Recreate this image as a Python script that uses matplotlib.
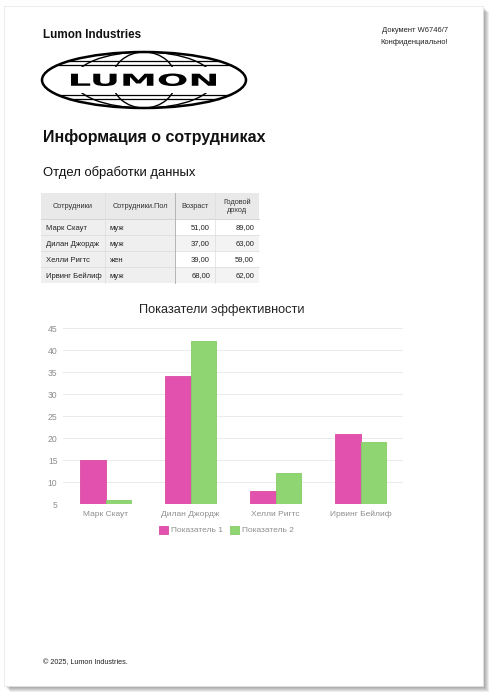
import numpy as np
import matplotlib
matplotlib.use("Agg")
import matplotlib.pyplot as plt
from matplotlib.patches import Ellipse, Rectangle, PathPatch
from matplotlib.textpath import TextPath
from matplotlib.font_manager import FontProperties
from matplotlib.transforms import Affine2D

plt.rcParams["font.family"] = ["Liberation Sans", "DejaVu Sans"]

# table data
employees = ["Марк Скаут", "Дилан Джордж", "Хелли Ригтс", "Ирвинг Бейлиф"]
genders = ["муж", "муж", "жен", "муж"]
ages = [51, 37, 39, 68]
incomes = [89, 63, 59, 62]
table_headers = ["Сотрудники", "Сотрудники.Пол", "Возраст", "Годовой\nдоход"]

# chart data
series_names = ["Показатель 1", "Показатель 2"]
metric_1 = [15, 34, 8, 21]
metric_2 = [6, 42, 12, 19]
y_ticks = [5, 10, 15, 20, 25, 30, 35, 40, 45]

PINK = "#e151ad"
GREEN = "#8fd672"
W, H = 492, 695


def fmt(v):
    return f"{v:.2f}".replace(".", ",")


def px_to_fig(x0, y0, x1, y1):
    return [x0 / W, 1 - y1 / H, (x1 - x0) / W, (y1 - y0) / H]


fig = plt.figure(figsize=(W / 100, H / 100), dpi=100)
canvas = fig.add_axes([0, 0, 1, 1])
canvas.set_xlim(0, W)
canvas.set_ylim(H, 0)
canvas.axis("off")

# page with soft shadow
for k in range(1, 7):
    canvas.add_patch(Rectangle((4 + k, 6 + k), 479, 680, fc="black", ec="none", alpha=0.07))
canvas.add_patch(Rectangle((4, 6), 479, 680, fc="white", ec="#e4e4e4", lw=0.5))

# header
canvas.text(43, 34.5, "Lumon Industries", fontsize=8.4, fontweight="bold", va="center", color="#111111")
canvas.text(448, 31, "Документ W6746/7", fontsize=5.4, ha="right", va="center", color="#222222")
canvas.text(448, 42, "Конфиденциально!", fontsize=5.4, ha="right", va="center", color="#222222")

# logo
cx, cy, a, b = 144, 80, 102, 28
for yy in [61, 65, 95, 99]:
    half = a * np.sqrt(1 - ((yy - cy) / b) ** 2)
    canvas.plot([cx - half, cx + half], [yy, yy], color="black", lw=0.9)
for mw in [64, 140]:
    canvas.add_patch(Ellipse((cx, cy), mw, 2 * b, fill=False, ec="black", lw=1.0))
canvas.add_patch(Rectangle((60, 67), 168, 26, fc="white", ec="none", zorder=3))
canvas.add_patch(Ellipse((cx, cy), 2 * a, 2 * b, fill=False, ec="black", lw=1.8, zorder=4))
tp = TextPath((0, 0), "LUMON", prop=FontProperties(family="DejaVu Sans", weight="bold"), size=1)
bb = tp.get_extents()
tr = Affine2D().translate(-bb.x0, -bb.y0).scale(145 / bb.width, -12.5 / bb.height).translate(71, 86)
canvas.add_patch(PathPatch(tr.transform_path(tp), fc="black", ec="none", zorder=5))

canvas.text(43, 137, "Информация о сотрудниках", fontsize=11.5, fontweight="bold", va="center", color="#111111")
canvas.text(43, 173, "Отдел обработки данных", fontsize=9.4, va="center", color="#111111")

# table
col_edges = [41, 105, 175, 215, 259]
row_edges = [193, 219, 235, 251, 267, 283]
canvas.add_patch(Rectangle((col_edges[0], row_edges[0]), col_edges[-1] - col_edges[0],
                           row_edges[1] - row_edges[0], fc="#e9e9e9", ec="none"))
for i in range(len(employees)):
    y0, y1 = row_edges[i + 1], row_edges[i + 2]
    canvas.add_patch(Rectangle((col_edges[0], y0), col_edges[2] - col_edges[0], y1 - y0, fc="#efefef", ec="none"))
    data_bg = "#f3f3f3" if i % 2 else "white"
    canvas.add_patch(Rectangle((col_edges[2], y0), col_edges[-1] - col_edges[2], y1 - y0, fc=data_bg, ec="none"))
for y in row_edges[2:-1]:
    canvas.plot([col_edges[0], col_edges[-1]], [y, y], color="#dcdcdc", lw=0.5)
canvas.plot([col_edges[0], col_edges[-1]], [row_edges[1], row_edges[1]], color="#d4d4d4", lw=0.7)
for x in [col_edges[1], col_edges[3]]:
    canvas.plot([x, x], [row_edges[0], row_edges[-1]], color="#dddddd", lw=0.5)
canvas.plot([col_edges[2], col_edges[2]], [row_edges[0], row_edges[-1]], color="#b5b5b5", lw=0.7)

for j, head in enumerate(table_headers):
    canvas.text((col_edges[j] + col_edges[j + 1]) / 2, (row_edges[0] + row_edges[1]) / 2 + 0.5, head,
                fontsize=5.3, ha="center", va="center", color="#333333", linespacing=1.3)
for i in range(len(employees)):
    yc = (row_edges[i + 1] + row_edges[i + 2]) / 2 + 1
    canvas.text(col_edges[0] + 5, yc, employees[i], fontsize=5.5, va="center", color="#222222")
    canvas.text(col_edges[1] + 5, yc, genders[i], fontsize=5.5, va="center", color="#222222")
    canvas.text(col_edges[3] - 5, yc, fmt(ages[i]), fontsize=5.5, ha="right", va="center", color="#222222")
    canvas.text(col_edges[4] - 5, yc, fmt(incomes[i]), fontsize=5.5, ha="right", va="center", color="#222222")

# chart
canvas.text(222, 310, "Показатели эффективности", fontsize=9.2, ha="center", va="center", color="#222222")
ax = fig.add_axes(px_to_fig(63, 328, 403, 504))
ax.patch.set_alpha(0)
x = np.arange(len(employees))
bw = 0.295
ax.bar(x - bw / 2, metric_1, bw, color=PINK, edgecolor="#d94aa5", lw=0.6, label=series_names[0], zorder=3)
ax.bar(x + bw / 2, metric_2, bw, color=GREEN, edgecolor="#84cc66", lw=0.6, label=series_names[1], zorder=3)
ax.set_xlim(-0.5, len(employees) - 0.5)
ax.set_ylim(5, 45)
ax.set_yticks(y_ticks)
ax.set_xticks(x)
ax.set_xticklabels(employees)
ax.grid(axis="y", color="#ebebeb", lw=0.7, zorder=0)
for s in ax.spines.values():
    s.set_visible(False)
ax.tick_params(axis="x", length=0, labelsize=6.0, colors="#8e8e8e", pad=5)
ax.tick_params(axis="y", length=0, labelsize=6.2, colors="#8e8e8e", pad=4)
ax.legend(loc="upper center", bbox_to_anchor=(0.48, -0.08), ncol=2, frameon=False, fontsize=6.0,
          handlelength=1.1, handleheight=1.1, handletextpad=0.35, columnspacing=0.8, labelcolor="#8e8e8e")

canvas.text(43, 663, "© 2025, Lumon Industries.", fontsize=5.2, va="center", color="#222222")

fig.savefig("out.png", dpi=100)
